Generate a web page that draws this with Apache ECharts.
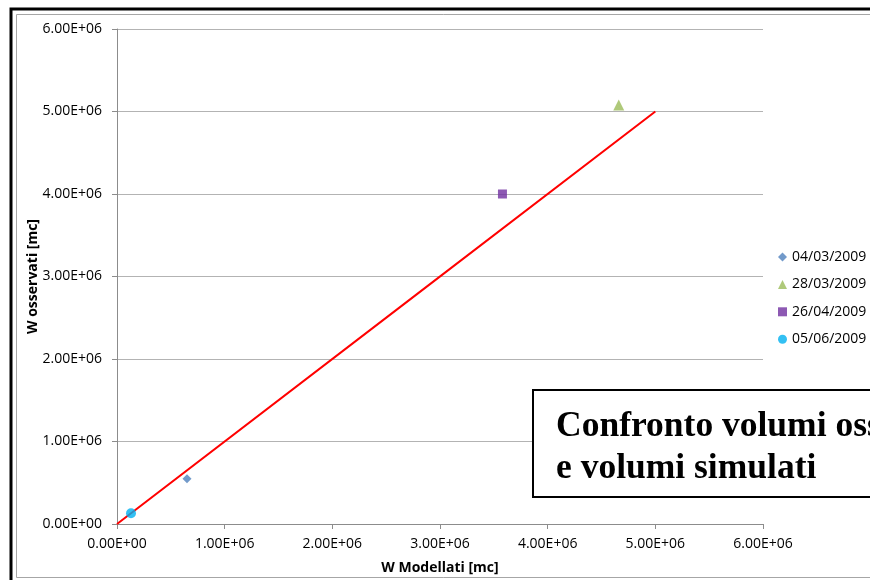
<!DOCTYPE html>
<html>
<head>
<meta charset="utf-8">
<script src="https://cdn.jsdelivr.net/npm/echarts@6/dist/echarts.min.js"></script>
<style>
html,body{margin:0;padding:0;background:#fff;}
#c{width:870px;height:580px;}
</style>
</head>
<body>
<div id="c"></div>
<script>
// Data (W Modellati, W osservati) in mc
const seriesNames = ['04/03/2009', '28/03/2009', '26/04/2009', '05/06/2009'];
const pt0403 = [[0.65e6, 0.55e6]];
const pt2803 = [[4.66e6, 5.08e6]];
const pt2604 = [[3.58e6, 4.00e6]];
const pt0506 = [[0.13e6, 0.13e6]];
const fitLine = [[0, 0], [2.78e6, 2.78e6], [5.0e6, 5.0e6]];
const axisTicks = [0, 1e6, 2e6, 3e6, 4e6, 5e6, 6e6];
const boxLines = ['Confronto volumi osservati', 'e volumi simulati'];

function fmt(v) {
  if (v === 0) return '0.00E+00';
  const e = Math.floor(Math.log10(v));
  const m = v / Math.pow(10, e);
  return m.toFixed(2) + 'E+' + String(e).padStart(2, '0');
}

const font = '"Open Sans", Lato, sans-serif';
const chart = echarts.init(document.getElementById('c'), null, {renderer: 'canvas'});

const scatterBase = (name, data, symbol, size, color) => ({
  name, type: 'scatter', data, symbol, symbolSize: size,
  itemStyle: {color}, z: 5
});

chart.setOption({
  animation: false,
  backgroundColor: '#fff',
  grid: {left: 117, top: 29, width: 646, height: 496, containLabel: false},
  xAxis: {
    type: 'value', min: 0, max: 6e6, interval: 1e6,
    name: 'W Modellati [mc]', nameLocation: 'middle', nameGap: 37,
    nameTextStyle: {fontFamily: font, fontSize: 14, fontWeight: 'bold', color: '#000'},
    axisLine: {show: true, onZero: false, lineStyle: {color: '#8c8c8c', width: 1}},
    axisTick: {show: true, length: 5, inside: false, lineStyle: {color: '#8c8c8c'}},
    axisLabel: {margin: 13, fontFamily: font, fontSize: 14, color: '#000', formatter: fmt},
    splitLine: {show: false}
  },
  yAxis: {
    type: 'value', min: 0, max: 6e6, interval: 1e6,
    name: 'W osservati [mc]', nameLocation: 'middle', nameGap: 77, nameMoveOverlap: false,
    nameTextStyle: {fontFamily: font, fontSize: 14, fontWeight: 'bold', color: '#000'},
    axisLine: {show: true, onZero: false, lineStyle: {color: '#8c8c8c', width: 1}},
    axisTick: {show: true, length: 5, inside: false, lineStyle: {color: '#8c8c8c'}},
    axisLabel: {margin: 15, fontFamily: font, fontSize: 14, color: '#000', formatter: fmt},
    splitLine: {show: true, lineStyle: {color: '#b3b3b3', width: 1}}
  },
  legend: {
    orient: 'vertical', left: 778, top: 250, itemGap: 13.4, padding: 0,
    itemWidth: 9, itemHeight: 9,
    textStyle: {fontFamily: font, fontSize: 14, color: '#000', lineHeight: 9},
    data: [
      {name: seriesNames[0], icon: 'diamond'},
      {name: seriesNames[1], icon: 'triangle'},
      {name: seriesNames[2], icon: 'rect'},
      {name: seriesNames[3], icon: 'circle'}
    ]
  },
  series: [
    {
      name: 'fit', type: 'line', data: fitLine, symbol: 'none',
      lineStyle: {color: '#ff0000', width: 2}, z: 3, silent: true
    },
    scatterBase(seriesNames[0], pt0403, 'diamond', 9, '#4f81bd'),
    scatterBase(seriesNames[1], pt2803, 'triangle', 11, '#9bbb59'),
    scatterBase(seriesNames[2], pt2604, 'rect', 9, '#7030a0'),
    scatterBase(seriesNames[3], pt0506, 'circle', 10, '#00b0f0')
  ],
  graphic: [
    {type: 'rect', shape: {x: 11, y: 9, width: 880, height: 600}, style: {fill: 'none', stroke: '#000', lineWidth: 3}, z: 100},
    {type: 'rect', shape: {x: 16.5, y: 14.5, width: 880, height: 563}, style: {fill: 'none', stroke: '#a6a6a6', lineWidth: 1}, z: 100},
    {type: 'rect', shape: {x: 533, y: 390, width: 400, height: 107}, style: {fill: '#fff', stroke: '#000', lineWidth: 2}, z: 50},
    {type: 'text', left: 556, top: 409, z: 51,
      style: {text: boxLines[0], font: 'bold 35.5px "Liberation Serif", "Times New Roman", serif', fill: '#000'}},
    {type: 'text', left: 556, top: 451, z: 51,
      style: {text: boxLines[1], font: 'bold 35.5px "Liberation Serif", "Times New Roman", serif', fill: '#000'}}
  ]
});
</script>
</body>
</html>
